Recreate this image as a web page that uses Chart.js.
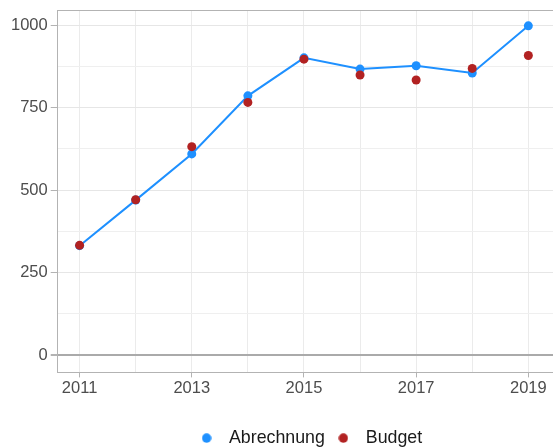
<!DOCTYPE html>
<html>
<head>
<meta charset="utf-8">
<script src="https://cdn.jsdelivr.net/npm/chart.js@4/dist/chart.umd.min.js"></script>
<style>
  html, body { margin: 0; padding: 0; overflow: hidden; background: #fff; }
  #wrap { width: 553px; height: 448px; overflow: hidden; }
</style>
</head>
<body>
<div id="wrap"><canvas id="chart" width="562" height="457"></canvas></div>
<script>
const years = [2011, 2012, 2013, 2014, 2015, 2016, 2017, 2018, 2019];
const abrechnung = [332, 470, 610, 786, 901, 867, 877, 855, 998];
const budget = [333, 471, 632, 766, 897, 849, 834, 869, 908];
const yTicks = [0, 125, 250, 375, 500, 625, 750, 875, 1000];

const axisGray = "#b3b3b3";
const family = "'Liberation Sans', Arial, sans-serif";
const tickFont = { family: family, size: 16.5 };
const legendFont = { family: family, size: 17.8 };

// small round marker for the legend
function dot(color) {
    const c = document.createElement("canvas");
    c.width = 10;
    c.height = 10;
    const g = c.getContext("2d");
    g.fillStyle = color;
    g.beginPath();
    g.arc(5, 5, 4.7, 0, Math.PI * 2);
    g.fill();
    return c;
}

// panel border on top/right
const panelBorder = {
    id: "panelBorder",
    afterDraw(chart) {
        const { ctx, chartArea } = chart;
        ctx.save();
        ctx.strokeStyle = axisGray;
        ctx.lineWidth = 1;
        ctx.beginPath();
        ctx.moveTo(chartArea.left, chartArea.top + 0.5);
        ctx.lineTo(chartArea.right, chartArea.top + 0.5);
        ctx.lineTo(chartArea.right - 0.5, chartArea.bottom);
        ctx.stroke();
        ctx.restore();
    },
};

const config = {
    type: "line",
    data: {
        datasets: [
            {
                label: "Abrechnung",
                data: years.map((y, i) => ({ x: y, y: abrechnung[i] })),
                borderColor: "#1E90FF",
                backgroundColor: "#1E90FF",
                borderWidth: 2,
                pointRadius: 4.5,
                pointBorderWidth: 0,
                tension: 0,
                order: 1,
            },
            {
                label: "Budget",
                data: years.map((y, i) => ({ x: y, y: budget[i] })),
                borderColor: "#B22222",
                backgroundColor: "#B22222",
                showLine: false,
                pointRadius: 4.5,
                pointBorderWidth: 0,
                order: 0,
            },
        ],
    },
    options: {
        responsive: false,
        animation: false,
        layout: { padding: { top: 10, left: 8, right: 0, bottom: 0 } },
        plugins: {
            tooltip: { enabled: false },
            legend: {
                position: "bottom",
                fullSize: false,
                labels: {
                    usePointStyle: true,
                    pointStyleWidth: 27,
                    boxHeight: 7,
                    padding: 5,
                    color: "#1a1a1a",
                    font: legendFont,
                    sort: (a, b) => a.datasetIndex - b.datasetIndex,
                    generateLabels: (chart) =>
                        Chart.defaults.plugins.legend.labels
                            .generateLabels(chart)
                            .map((item) => ({ ...item, pointStyle: dot(item.fillStyle) })),
                },
            },
        },
        scales: {
            x: {
                type: "linear",
                min: 2010.61,
                max: 2019.52,
                afterBuildTicks: (axis) => {
                    axis.ticks = years.map((v) => ({ value: v }));
                },
                afterFit: (axis) => {
                    axis.height += 25;
                    axis.paddingLeft = 0;
                    axis.paddingRight = 0;
                },
                ticks: {
                    autoSkip: false,
                    maxRotation: 0,
                    color: "#4d4d4d",
                    font: tickFont,
                    padding: 1,
                    callback: (v) => (v % 2 === 1 ? String(v) : ""),
                },
                grid: {
                    color: "#ebebeb",
                    tickLength: 5,
                    tickColor: (c) => (c.tick && c.tick.value % 2 === 1 ? axisGray : "rgba(0,0,0,0)"),
                },
                border: { color: axisGray, width: 1 },
            },
            y: {
                min: -52,
                max: 1046,
                afterBuildTicks: (axis) => {
                    axis.ticks = yTicks.map((v) => ({ value: v }));
                },
                afterFit: (axis) => {
                    axis.paddingTop = 0;
                    axis.paddingBottom = 0;
                },
                ticks: {
                    color: "#4d4d4d",
                    font: tickFont,
                    padding: 3,
                    callback: (v) => (v % 250 === 0 ? String(v) : ""),
                },
                grid: {
                    color: (c) => {
                        const v = c.tick ? c.tick.value : null;
                        if (v === 0) return "#aaaaaa";
                        return v % 250 === 0 ? "#e6e6e6" : "#efefef";
                    },
                    lineWidth: (c) => (c.tick && c.tick.value === 0 ? 2 : 1),
                    tickLength: 7,
                    tickColor: (c) => (c.tick && c.tick.value % 250 === 0 ? axisGray : "rgba(0,0,0,0)"),
                },
                border: { color: axisGray, width: 1 },
            },
        },
    },
    plugins: [panelBorder],
};

new Chart(document.getElementById("chart"), config);
</script>
</body>
</html>
